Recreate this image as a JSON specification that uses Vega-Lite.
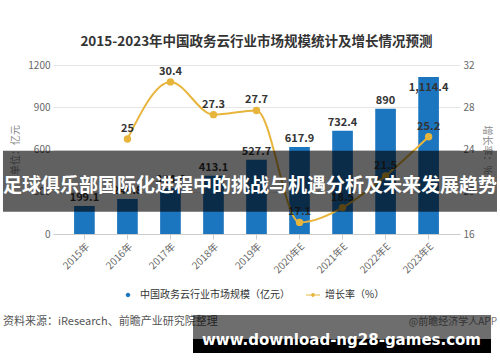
{
  "$schema": "https://vega.github.io/schema/vega-lite/v6.json",
  "autosize": {"type": "none"},
  "width": 407,
  "height": 169,
  "padding": {"left": 53, "top": 65, "right": 40, "bottom": 128},
  "background": "white",
  "config": {
    "font": "Noto Sans CJK SC",
    "view": {"stroke": null},
    "title": {"font": "Noto Sans CJK SC"}
  },
  "title": {
    "text": "2015-2023年中国政务云行业市场规模统计及增长情况预测",
    "fontSize": 13.5,
    "fontWeight": "bold",
    "color": "#333333",
    "offset": 12,
    "anchor": "middle"
  },
  "data": {
    "values": [
      {"year": "2015年", "size": 199.1, "rate": null},
      {"year": "2016年", "size": 248.8, "rate": 25},
      {"year": "2017年", "size": 324.5, "rate": 30.4},
      {"year": "2018年", "size": 413.1, "rate": 27.3},
      {"year": "2019年", "size": 527.7, "rate": 27.7},
      {"year": "2020年E", "size": 617.9, "rate": 17.1},
      {"year": "2021年E", "size": 732.4, "rate": 18.5},
      {"year": "2022年E", "size": 890, "rate": 21.5},
      {"year": "2023年E", "size": 1114.4, "rate": 25.2}
    ]
  },
  "layer": [
    {
      "encoding": {
        "x": {
          "field": "year",
          "type": "nominal",
          "sort": null,
          "scale": {"paddingInner": 0.52, "paddingOuter": 0.49},
          "axis": {
            "title": null,
            "labelAngle": -45,
            "labelFontSize": 10,
            "labelColor": "#666666",
            "domainColor": "#cccccc",
            "tickColor": "#cccccc",
            "tickSize": 5,
            "labelPadding": 2
          }
        }
      },
      "layer": [
        {
          "encoding": {
            "y": {
              "field": "size",
              "type": "quantitative",
              "scale": {"domain": [0, 1200], "nice": false},
              "axis": {
                "title": "单位：亿元",
                "values": [0, 300, 600, 900, 1200],
                "format": "d",
                "domain": false,
                "ticks": false,
                "labelPadding": 3,
                "labelFontSize": 10,
                "labelColor": "#666666",
                "gridColor": "#e6e6e6",
                "titleColor": "#888888",
                "titleFontSize": 10,
                "titleFontWeight": "normal",
                "titlePadding": 7
              }
            }
          },
          "layer": [
            {
              "mark": {"type": "bar"},
              "encoding": {
                "color": {
                  "datum": "中国政务云行业市场规模（亿元）",
                  "scale": {
                    "domain": ["中国政务云行业市场规模（亿元）", "增长率（%）"],
                    "range": ["#1c75bf", "#e8b53c"]
                  },
                  "legend": {
                    "title": null,
                    "orient": "none",
                    "direction": "horizontal",
                    "legendX": 68,
                    "legendY": 223,
                    "padding": 0,
                    "columnPadding": 16,
                    "labelOffset": 5,
                    "labelFontSize": 10,
                    "labelColor": "#333333",
                    "labelLimit": 300,
                    "symbolSize": 196,
                    "encode": {
                      "symbols": {
                        "update": {
                          "shape": {"signal": "datum.value === '增长率（%）' ? 'M-1,-0.07L1,-0.07L1,0.07L-1,0.07Z M0.27,0A0.27,0.27,0,1,1,-0.27,0A0.27,0.27,0,1,1,0.27,0Z' : 'M0.32,0A0.32,0.32,0,1,1,-0.32,0A0.32,0.32,0,1,1,0.32,0Z'"},
                          "fill": {"scale": "color", "field": "value"},
                          "strokeWidth": {"value": 0},
                          "opacity": {"value": 1},
                          "fillOpacity": {"value": 1}
                        }
                      }
                    }
                  }
                }
              }
            },
            {
              "transform": [{"filter": "datum.size < 1000"}],
              "mark": {"type": "text", "baseline": "bottom", "dy": -3, "fontSize": 11, "fontWeight": "bold", "color": "#333333"},
              "encoding": {"text": {"field": "size", "type": "quantitative", "format": ","}}
            },
            {
              "transform": [{"filter": "datum.size >= 1000"}],
              "mark": {"type": "text", "baseline": "middle", "dy": 11, "fontSize": 11, "fontWeight": "bold", "color": "#333333"},
              "encoding": {"text": {"field": "size", "type": "quantitative", "format": ","}}
            }
          ]
        },
        {
          "encoding": {
            "y": {
              "field": "rate",
              "type": "quantitative",
              "scale": {"domain": [16, 32], "nice": false, "zero": false},
              "axis": {
                "orient": "right",
                "title": "增长率：%",
                "values": [16, 20, 24, 28, 32],
                "grid": false,
                "domain": false,
                "ticks": false,
                "labelPadding": 3,
                "labelFontSize": 10,
                "labelColor": "#666666",
                "titleColor": "#888888",
                "titleFontSize": 10,
                "titleFontWeight": "normal",
                "titlePadding": 7
              }
            }
          },
          "layer": [
            {
              "transform": [{"filter": "datum.rate != null"}],
              "mark": {"type": "line", "interpolate": "monotone", "strokeWidth": 2},
              "encoding": {"color": {"datum": "增长率（%）"}}
            },
            {
              "transform": [{"filter": "datum.rate != null"}],
              "mark": {"type": "point", "filled": true, "size": 55, "opacity": 1},
              "encoding": {"color": {"datum": "增长率（%）"}}
            },
            {
              "transform": [{"filter": "datum.rate != null"}],
              "mark": {"type": "text", "baseline": "bottom", "dy": -5, "fontSize": 11, "fontWeight": "bold", "color": "#333333"},
              "encoding": {"text": {"field": "rate", "type": "quantitative"}}
            }
          ]
        }
      ],
      "resolve": {"scale": {"y": "independent"}}
    },
    {
      "data": {"values": [{}]},
      "layer": [
        {
          "mark": {"type": "text", "align": "left", "baseline": "middle", "fontSize": 11, "color": "#555555"},
          "encoding": {
            "x": {"datum": -0.1229, "type": "quantitative", "scale": {"domain": [0, 1], "nice": false, "zero": false}, "axis": null},
            "y": {"datum": -0.5178, "type": "quantitative", "scale": {"domain": [0, 1], "nice": false, "zero": false}, "axis": null},
            "text": {"value": "资料来源：iResearch、前瞻产业研究院整理"}
          }
        },
        {
          "mark": {"type": "text", "align": "right", "baseline": "middle", "fontSize": 10, "color": "#777777"},
          "encoding": {
            "x": {"datum": 1.0909, "type": "quantitative"},
            "y": {"datum": -0.5178, "type": "quantitative"},
            "text": {"value": "@前瞻经济学人APP"}
          }
        },
        {
          "mark": {"type": "rect", "color": "#000000", "opacity": 0.57},
          "encoding": {
            "x": {"datum": 0.344, "type": "quantitative"},
            "x2": {"datum": 1.0762},
            "y": {"datum": -0.4793, "type": "quantitative"},
            "y2": {"datum": -0.6213}
          }
        },
        {
          "mark": {"type": "rect", "color": "#000000", "opacity": 1},
          "encoding": {
            "x": {"datum": 0.344, "type": "quantitative"},
            "x2": {"datum": 1.0762},
            "y": {"datum": -0.6213, "type": "quantitative"},
            "y2": {"datum": -0.7041}
          }
        },
        {
          "mark": {"type": "text", "align": "center", "baseline": "alphabetic", "font": "DejaVu Sans", "fontSize": 15, "fontWeight": "bold", "color": "#ffffff"},
          "encoding": {
            "x": {"datum": 0.7088, "type": "quantitative"},
            "y": {"datum": -0.6568, "type": "quantitative"},
            "text": {"value": "www.download-ng28-games.com"}
          }
        },
        {
          "mark": {"type": "rect", "color": "#000000", "opacity": 0.62},
          "encoding": {
            "x": {"datum": -0.1229, "type": "quantitative"},
            "x2": {"datum": 1.0909},
            "y": {"datum": 0.4929, "type": "quantitative"},
            "y2": {"datum": 0.1320}
          }
        },
        {
          "mark": {"type": "text", "align": "center", "baseline": "middle", "fontSize": 19, "fontWeight": "bold", "color": "#ffffff"},
          "encoding": {
            "x": {"datum": 0.484, "type": "quantitative"},
            "y": {"datum": 0.284, "type": "quantitative"},
            "text": {"value": "足球俱乐部国际化进程中的挑战与机遇分析及未来发展趋势"}
          }
        }
      ]
    }
  ],
  "resolve": {"scale": {"x": "independent", "y": "independent"}}
}
